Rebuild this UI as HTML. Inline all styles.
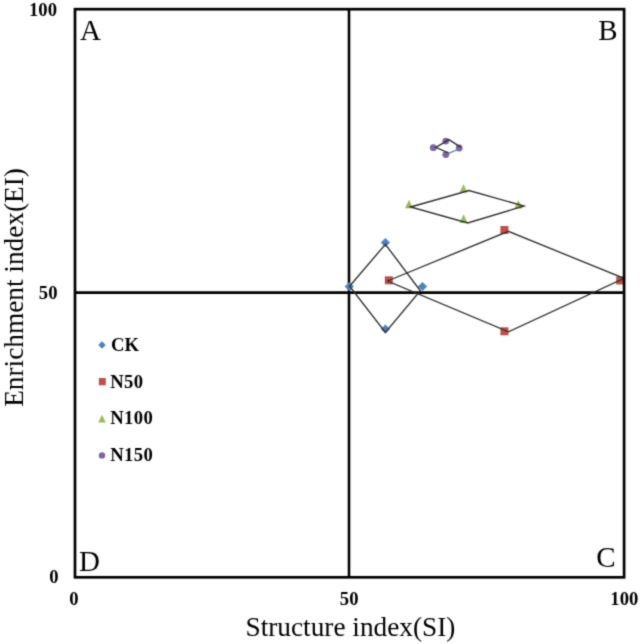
<!DOCTYPE html>
<html><head><meta charset="utf-8">
<style>
html,body{margin:0;padding:0;background:#fff;}
body{width:641px;height:644px;overflow:hidden;position:relative;}
svg{position:absolute;left:0;top:0;}
#w{position:absolute;left:0;top:0;width:641px;height:644px;}
text{font-family:"Liberation Serif",serif;fill:#000;}
.b{font-weight:bold;font-size:18.67px;}
.l{letter-spacing:0.35px;}
.r{font-size:27.3px;}
.q{font-size:29px;}
</style></head><body>
<div id="w"><svg width="641" height="644" viewBox="0 0 641 644">
<defs><filter id="bl" color-interpolation-filters="sRGB" x="0" y="0" width="641" height="644" filterUnits="userSpaceOnUse"><feConvolveMatrix order="3" kernelMatrix="0.0256 0.1088 0.0256 0.1088 0.4624 0.1088 0.0256 0.1088 0.0256" divisor="1" edgeMode="duplicate" preserveAlpha="false"/></filter></defs>
<g filter="url(#bl)">
<rect x="0" y="0" width="641" height="644" fill="#fff"/>
<!-- frame -->
<line x1="349" y1="9.1" x2="349" y2="577.3" stroke="#000" stroke-width="2.6"/>
<line x1="74.8" y1="292.6" x2="624.1" y2="292.6" stroke="#000" stroke-width="2.6"/>

<!-- quadrant letters -->
<text class="q" x="80" y="39.8">A</text>
<text class="q" x="598.3" y="39.8">B</text>
<text class="q" x="596.3" y="566.5">C</text>
<text class="q" x="79" y="570.5">D</text>

<!-- y tick labels -->
<text class="b" x="57" y="15.5" text-anchor="end">100</text>
<text class="b" x="57.5" y="298.8" text-anchor="end">50</text>
<text class="b" x="58.5" y="582.5" text-anchor="end">0</text>
<!-- x tick labels -->
<text class="b" x="74" y="605.3" text-anchor="middle">0</text>
<text class="b" x="349.2" y="605.3" text-anchor="middle">50</text>
<text class="b" x="624.3" y="605.3" text-anchor="middle">100</text>

<!-- axis titles -->
<text class="r" transform="translate(245.5,635.5) scale(1,1.02)" x="0" y="0">Structure index(SI)</text>
<text class="r" transform="translate(22.6,406.8) rotate(-90) scale(1,1.03)" x="0" y="0">Enrichment index(EI)</text>

<!-- CK diamonds -->
<g fill="#4F81BD">
  <path d="M349.3,282 l4.6,4.6 l-4.6,4.6 l-4.6,-4.6z"/>
  <path d="M385.4,238 l4.6,4.6 l-4.6,4.6 l-4.6,-4.6z"/>
  <path d="M385.4,324.4 l4.6,4.6 l-4.6,4.6 l-4.6,-4.6z"/>
  <path d="M422.5,281.9 l4.6,4.6 l-4.6,4.6 l-4.6,-4.6z"/>
</g>
<!-- N50 squares -->
<g fill="#C0504D">
  <rect x="384.8" y="276.3" width="8" height="8"/>
  <rect x="500.4" y="226" width="8" height="8"/>
  <rect x="616.2" y="276.5" width="8" height="8"/>
  <rect x="500.4" y="327.3" width="8" height="8"/>
</g>
<!-- N100 triangles -->
<g fill="#9BBB59">
  <path d="M409,199.8 l4,8.5 h-8z"/>
  <path d="M463.5,184.2 l4,8.3 h-8z"/>
  <path d="M518.4,200 l4,8.4 h-8z"/>
  <path d="M463.6,214.3 l4,8.8 h-8z"/>
</g>
<!-- N150 circles -->
<g fill="#8064A2">
  <circle cx="433.3" cy="147.7" r="3.4"/>
  <circle cx="445.8" cy="141.1" r="3.4"/>
  <circle cx="459.2" cy="148" r="3.4"/>
  <circle cx="445.8" cy="154.6" r="3.4"/>
</g>

<!-- connecting lines -->
<g fill="none" stroke="#303030" stroke-width="1.35" stroke-linejoin="miter">
  <polygon points="349.6,286.2 385.4,244.3 420.3,290.8 385.4,332.4"/>
  <polygon points="387.5,281 508.3,231.3 624,278.4 508.5,331.8"/>
  <polygon points="410.5,207 469,190.5 524,206 467.7,223"/>
  <polyline points="448.6,153 435.8,147.4 448.9,139.6 461,147.4"/>
</g>
<line x1="448.6" y1="153.3" x2="461.3" y2="148" stroke="#4F81BD" stroke-width="1.3"/>

<!-- frame on top -->
<rect x="75" y="9.2" width="549.1" height="568.1" fill="none" stroke="#000" stroke-width="2.7"/>
<!-- legend -->
<path d="M102,341.3 l3.7,3.7 l-3.7,3.7 l-3.7,-3.7z" fill="#4F81BD"/>
<rect x="98.8" y="378" width="7" height="7.3" fill="#C0504D"/>
<path d="M102,414.8 l3.8,7.6 h-7.6z" fill="#9BBB59"/>
<circle cx="102" cy="455.4" r="3.2" fill="#8064A2"/>
<text class="b" x="111" y="350.5">CK</text>
<text class="b l" x="110.3" y="387.5">N50</text>
<text class="b l" x="110.3" y="424.2">N100</text>
<text class="b l" x="110.3" y="461.3">N150</text>
</g>
</svg></div>
</body></html>
